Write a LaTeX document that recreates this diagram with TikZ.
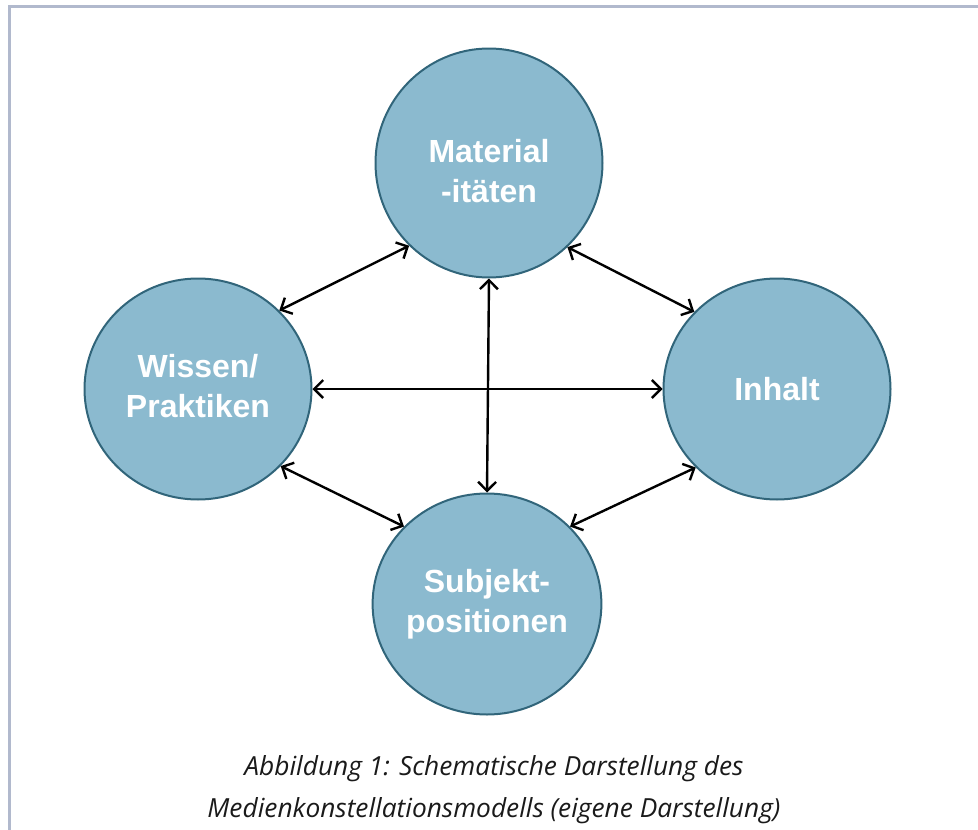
\documentclass[tikz,border=0pt]{standalone}
\usepackage{fontspec}
\setmainfont{Open Sans}
\newfontfamily\boxfont{Liberation Sans}
\usepackage{tikz}
\usetikzlibrary{arrows.meta,shapes.geometric,positioning}
\definecolor{Frame}{HTML}{B1B9CD}
\definecolor{Bubble}{HTML}{8BBACF}
\definecolor{BubbleLine}{HTML}{31657A}
\definecolor{Caption}{HTML}{1A1A1A}

\begin{document}
\begin{tikzpicture}[
    x=1pt, y=-1pt,
    bubbletext/.style={text=white, align=center,
      font={\boxfont\bfseries\fontsize{32}{40}\selectfont}},
    bubble/.style={draw=BubbleLine, line width=2pt, fill=Bubble, ellipse,
      inner sep=0pt, minimum width=227pt, minimum height=221pt, bubbletext},
    link/.style={{Straight Barb[length=9pt,width=18pt]}-{Straight Barb[length=9pt,width=18pt]},
      line width=2.4pt, black},
    caption/.style={align=center, text=Caption,
      font={\itshape\fontsize{26.3}{42}\selectfont}}
  ]
  \useasboundingbox (0,0) rectangle (978,830);

  % frame
  \draw[Frame, line width=3pt] (9.5,830) -- (9.5,6.5) -- (978,6.5);

  \node[bubble, minimum height=229pt,
    label={[bubbletext, yshift=-8pt]center:{Material\\-itäten}}] (material) at (489,163) {};
  \node[bubble,
    label={[bubbletext, yshift=3pt]center:{Wissen/\\Praktiken}}] (wissen) at (198,389) {};
  \node[bubble] (inhalt) at (777,389) {Inhalt};
  \node[bubble] (subjekt) at (487,604) {Subjekt-\\positionen};

  \draw[link] (wissen.44) -- (material.226);
  \draw[link] (material.313) -- (inhalt.137);
  \draw[link] (wissen.east) -- (inhalt.west);
  \draw[link] (material.south) -- (subjekt.north);
  \draw[link] (wissen.317) -- (subjekt.137);
  \draw[link] (subjekt.43) -- (inhalt.224);

  \node[caption] (cap) at (494,790)
  {Abbildung 1: Schematische Darstellung des\\Medienkonstellationsmodells (eigene Darstellung)};
\end{tikzpicture}
\end{document}
